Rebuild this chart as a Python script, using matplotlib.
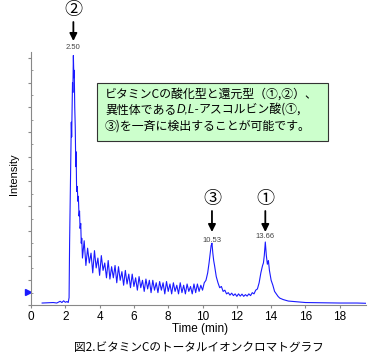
import matplotlib
matplotlib.use("Agg")
import matplotlib.pyplot as plt
from matplotlib.patches import Rectangle

# chromatogram trace (time in min, intensity in arbitrary units)
time = [0.65, 1.0, 1.3, 1.5, 1.7, 1.8, 1.9, 2.0, 2.1, 2.17, 2.22, 2.25, 2.29, 2.32,
        2.35, 2.37, 2.39, 2.42, 2.44, 2.47, 2.50, 2.52, 2.55, 2.58, 2.61, 2.63,
        2.66, 2.70, 2.73, 2.76, 2.80, 2.83, 2.86, 2.90, 2.93, 2.96,
        3.0, 3.1, 3.2, 3.3, 3.4, 3.5, 3.6, 3.7, 3.8, 3.9,
        4.0, 4.1, 4.2, 4.3, 4.4, 4.5, 4.6, 4.7, 4.8, 4.9,
        5.0, 5.1, 5.2, 5.3, 5.4, 5.5, 5.6, 5.7, 5.8, 5.9,
        6.0, 6.1, 6.2, 6.3, 6.4, 6.5, 6.6, 6.7, 6.8, 6.9,
        7.0, 7.1, 7.2, 7.3, 7.4, 7.5, 7.6, 7.7, 7.8, 7.9,
        8.0, 8.1, 8.2, 8.3, 8.4, 8.5, 8.6, 8.7, 8.8, 8.9,
        9.0, 9.1, 9.2, 9.3, 9.4, 9.5, 9.6, 9.7, 9.8, 9.9,
        10.0, 10.1, 10.2, 10.3, 10.38, 10.45, 10.5, 10.55, 10.6, 10.65, 10.7, 10.8, 10.9,
        11.0, 11.1, 11.2, 11.3, 11.4, 11.5, 11.6, 11.7, 11.8, 11.9,
        12.0, 12.1, 12.2, 12.3, 12.4, 12.5, 12.6, 12.7, 12.8, 12.9,
        13.0, 13.1, 13.2, 13.3, 13.4, 13.5, 13.55, 13.6, 13.66, 13.72, 13.78, 13.84, 13.9,
        14.0, 14.1, 14.2, 14.3, 14.4, 14.5, 14.7, 15.0, 15.5, 16.0, 17.0, 18.0, 19.0, 19.5]
intensity = [0.8, 0.9, 1.0, 0.8, 1.5, 1.0, 1.7, 1.1, 1.4, 1.0, 3, 25, 45, 60,
             74, 68, 78, 90, 86, 101, 92, 95, 80, 72, 56, 62,
             46, 48, 42, 44, 36, 38, 31, 33, 25, 27,
             19, 26, 16, 23, 17, 21, 13, 22, 15, 19,
             12, 20, 14, 17, 11, 18, 10.5, 15.5, 11, 16,
             9, 15.5, 10, 13.5, 8, 14, 8.5, 12.5, 7, 12.5,
             7.5, 11, 6, 11.5, 7, 10, 5.5, 10.5, 6.5, 10,
             5, 10, 6, 9, 5, 9.5, 6, 9, 4.5, 9.5,
             5.5, 8.5, 4.5, 9, 5.5, 8, 4.5, 9, 5, 8,
             4.5, 8.5, 5.5, 7.5, 4.5, 8.5, 5, 8.5, 5.5, 8,
             6, 9, 10, 13, 17, 21, 24, 25, 21, 18, 16, 11.5, 9,
             7, 7.5, 5.5, 6, 4.5, 5, 4, 4.8, 3.8, 4.5,
             3.5, 4.5, 3.6, 4.4, 3.5, 4.2, 3.6, 4.5, 3.8, 5,
             4.5, 6, 6.5, 9, 13, 16, 17, 20, 25.5, 20, 16.5, 18, 14,
             10, 8, 5.5, 4.5, 3.5, 2.8, 2.2, 1.6, 1.3, 1.0, 0.9, 0.8, 0.8, 0.7]

# labelled peaks
peak_times = [2.47, 10.55, 13.66]
peak_labels = ["2.50", "10.53", "13.66"]
peak_marks = ["②", "③", "①"]

x_ticks = [0, 2, 4, 6, 8, 10, 12, 14, 16, 18]

cjk = ["Noto Sans CJK JP", "DejaVu Sans"]
plt.rcParams["font.family"] = ["Liberation Sans", "DejaVu Sans"]

fig = plt.figure(figsize=(3.72, 3.55), dpi=100)
ax = fig.add_axes([31 / 372, 50 / 355, 335 / 372, 252.5 / 355])

ax.plot(time, intensity, color="#1a1aff", lw=0.8)
ax.plot([-0.17], [5.3], marker=">", color="#1a1aff", ms=4, clip_on=False)

ax.set_xlim(0, 19.53)
ax.set_ylim(0, 102.2)
ax.set_xticks(x_ticks)
ax.set_yticks(range(0, 101, 10))
ax.set_yticks(range(5, 101, 10), minor=True)
ax.set_yticklabels([])
ax.tick_params(axis="x", direction="out", length=2.5, color="#888888",
               labelsize=8.5, pad=2)
ax.tick_params(axis="y", which="major", direction="out", length=2, color="#888888")
ax.tick_params(axis="y", which="minor", direction="in", length=1.5, color="#888888")
for s in ["top", "right"]:
    ax.spines[s].set_visible(False)
for s in ["left", "bottom"]:
    ax.spines[s].set_color("#888888")

fig.text(14 / 372, 1 - 174 / 355, "Intensity", rotation=90, ha="center",
         va="center", fontsize=8)
fig.text(200 / 372, 1 - 329 / 355, "Time (min)", ha="center", va="center",
         fontsize=8.5)
fig.text(199 / 372, 1 - 347 / 355, "図2.ビタミンCのトータルイオンクロマトグラフ",
         ha="center", va="center", fontsize=8.4, family=cjk)

# peak annotations
mark_y = [10, 199, 199]
arrow_top = [22, 211, 211]
arrow_tip = [41, 232, 232]
label_y = [47.5, 240, 237]
for t, lab, m, my, a0, a1, ly in zip(peak_times, peak_labels, peak_marks,
                                     mark_y, arrow_top, arrow_tip, label_y):
    ax.annotate(m, xy=(t, 1 - my / 355), xycoords=("data", "figure fraction"),
                ha="center", va="center", fontsize=13, family=cjk,
                annotation_clip=False)
    ax.annotate("", xy=(t, 1 - a1 / 355), xytext=(t, 1 - a0 / 355),
                xycoords=("data", "figure fraction"),
                textcoords=("data", "figure fraction"),
                arrowprops=dict(arrowstyle="-|>", color="black", lw=1.3,
                                mutation_scale=11, shrinkA=0, shrinkB=0),
                annotation_clip=False)
    ax.annotate(lab, xy=(t, 1 - ly / 355), xycoords=("data", "figure fraction"),
                ha="center", va="center", fontsize=5.5, color="#444444",
                annotation_clip=False)

# note box
fig.patches.append(Rectangle((97 / 372, 1 - 141 / 355), 231 / 372, 58 / 355,
                             transform=fig.transFigure, facecolor="#ccffcc",
                             edgecolor="#333333", lw=0.8))
x0 = 105 / 372
fig.text(x0, 1 - 94 / 355, "ビタミンCの酸化型と還元型（①,②）、", fontsize=8.6,
         family=cjk, va="center")
fig.canvas.draw()
pieces = [("異性体である", cjk, "normal"), ("D,L-", ["Liberation Sans"], "italic"),
          ("アスコルビン酸(①,", cjk, "normal")]
xc = x0
for txt, fam, st in pieces:
    tt = fig.text(xc, 1 - 110 / 355, txt, fontsize=8.6, family=fam, style=st,
                  va="center")
    bb = tt.get_window_extent(renderer=fig.canvas.get_renderer())
    xc = bb.x1 / fig.bbox.width
fig.text(x0, 1 - 126 / 355, "③)を一斉に検出することが可能です。", fontsize=8.6,
         family=cjk, va="center")

fig.savefig("out.png", dpi=100)
